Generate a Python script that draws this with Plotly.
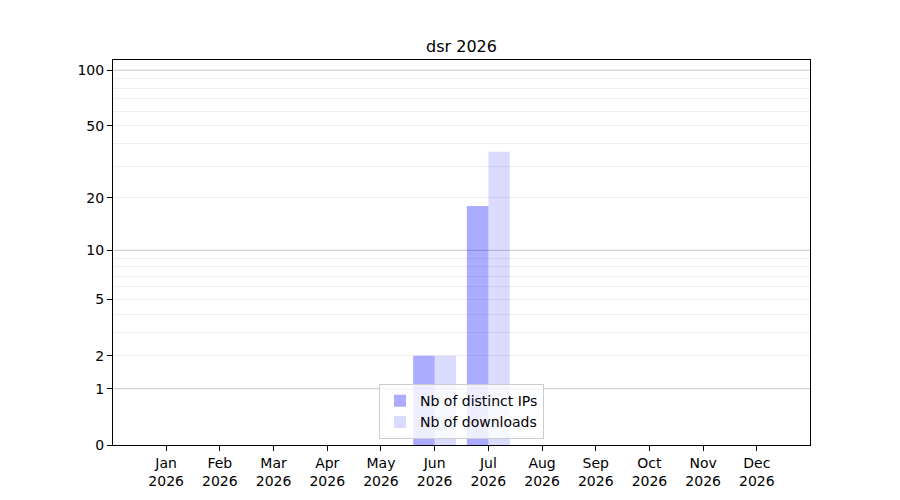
"""
Monthly download stats for dsr, drawn on a log(1 + n) axis like the
matplotlib original (so zero months still sit on the baseline).
"""

import numpy as np
import plotly.graph_objects as go

# Data
months = ['Jan', 'Feb', 'Mar', 'Apr', 'May', 'Jun',
          'Jul', 'Aug', 'Sep', 'Oct', 'Nov', 'Dec']
year = 2026
distinct_ips = [0, 0, 0, 0, 0, 2, 18, 0, 0, 0, 0, 0]
downloads = [0, 0, 0, 0, 0, 2, 36, 0, 0, 0, 0, 0]

tick_values = [0, 1, 2, 5, 10, 20, 50, 100]
major_grid = [1, 10, 100]
minor_grid = [2, 3, 4, 5, 6, 7, 8, 9, 20, 30, 40, 50, 60, 70, 80, 90]


def to_axis(v):
    """Map counts onto the log10(1 + n) scale used by the chart."""
    return np.log10(1 + np.asarray(v, dtype=float))


x = list(range(len(months)))
tick_text = [f'{m}<br>{year}' for m in months]

fig = go.Figure()

fig.add_trace(go.Bar(
    x=x,
    y=to_axis(distinct_ips),
    name='Nb of distinct IPs',
    marker=dict(color='rgba(0, 0, 255, 0.33)', line=dict(width=0)),
    customdata=distinct_ips,
    hovertemplate='%{customdata}<extra></extra>'
))

fig.add_trace(go.Bar(
    x=x,
    y=to_axis(downloads),
    name='Nb of downloads',
    marker=dict(color='rgba(0, 0, 255, 0.14)', line=dict(width=0)),
    customdata=downloads,
    hovertemplate='%{customdata}<extra></extra>'
))

# Darker grid lines at the decades
for v in major_grid:
    fig.add_hline(
        y=float(to_axis(v)),
        line_color='#c8c8c8',
        line_width=1,
        layer='below'
    )

# The page puts the plot 8px in from the corner, so margins are shifted
fig.update_layout(
    title=dict(
        text=f'dsr {year}',
        x=0.5,
        xanchor='center',
        xref='paper',
        y=0.924,
        yanchor='middle',
        font=dict(size=16, color='black')
    ),
    width=900,
    height=500,
    font=dict(family='DejaVu Sans', size=14, color='black'),
    paper_bgcolor='white',
    plot_bgcolor='white',
    barmode='group',
    bargap=0.2,
    bargroupgap=0,
    margin=dict(l=105, r=98, t=52, b=63),
    legend=dict(
        x=0.5,
        xanchor='center',
        y=0.015,
        yanchor='bottom',
        bgcolor='rgba(255, 255, 255, 0.8)',
        bordercolor='#cccccc',
        borderwidth=1,
        font=dict(size=14),
        tracegroupgap=0
    ),
    xaxis=dict(
        range=[-0.99, 11.99],
        tickmode='array',
        tickvals=x,
        ticktext=tick_text,
        ticks='outside',
        ticklen=5,
        tickcolor='black',
        showgrid=False,
        zeroline=False,
        showline=True,
        linecolor='black',
        linewidth=1,
        mirror=True
    ),
    yaxis=dict(
        range=[0, 2.059],
        tickmode='array',
        tickvals=to_axis(tick_values),
        ticktext=[str(t) for t in tick_values],
        ticks='outside',
        ticklen=5,
        tickcolor='black',
        showgrid=False,
        zeroline=False,
        showline=True,
        linecolor='black',
        linewidth=1,
        mirror=True,
        minor=dict(
            tickmode='array',
            tickvals=to_axis(minor_grid),
            ticks='',
            showgrid=True,
            gridcolor='#efefef',
            gridwidth=1
        )
    ),
    showlegend=True
)

fig.write_html("out.html")
